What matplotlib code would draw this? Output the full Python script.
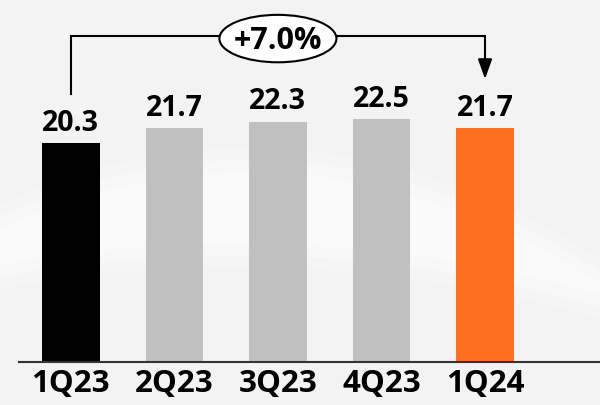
import numpy as np
import matplotlib.pyplot as plt
from matplotlib.patches import Ellipse

quarters = ['1Q23', '2Q23', '3Q23', '4Q23', '1Q24']
values = [20.3, 21.7, 22.3, 22.5, 21.7]
bar_colors = ['#000000', '#c0c0c0', '#c0c0c0', '#c0c0c0', '#ff6f20']
growth_label = '+7.0%'

plt.rcParams['font.family'] = ['Open Sans', 'DejaVu Sans']

fig = plt.figure(figsize=(6, 4.06), dpi=100)
fig.patch.set_facecolor('#f3f3f3')

# soft white swoosh behind the bars
bg = fig.add_axes([0, 0, 1, 1], zorder=0)
bg.set_xlim(0, 600)
bg.set_ylim(406, 0)
bg.axis('off')
xs = np.linspace(0, 600, 200)
t = xs / 600
top = 205 * (1 - t) ** 2 + 2 * t * (1 - t) * 70 + 260 * t ** 2
bot = 290 * (1 - t) ** 2 + 2 * t * (1 - t) * 235 + 320 * t ** 2
for k, a in enumerate([0.2, 0.3, 0.4]):
    shrink = k * 12
    bg.fill_between(xs, top + shrink, bot - shrink, color='white', alpha=a, lw=0)

ax = fig.add_axes([19 / 600, 43 / 406, 581 / 600, 363 / 406], zorder=1)
ax.patch.set_visible(False)

x = np.arange(len(quarters))
bars = ax.bar(x, values, width=0.555, color=bar_colors, zorder=2)

for xi, v in zip(x, values):
    ax.annotate(f'{v:.1f}', (xi, v), xytext=(0, 9.5), textcoords='offset points',
                ha='center', va='baseline', fontsize=20.5, fontweight='bold')

ax.set_xlim(-0.5, 5.11)
ax.set_ylim(0, 33.67)
ax.set_xticks(x)
ax.set_xticklabels(quarters, fontsize=22.5, fontweight='bold')
ax.tick_params(axis='x', length=0, pad=4)
ax.set_yticks([])
for s in ['top', 'right', 'left']:
    ax.spines[s].set_visible(False)
ax.spines['bottom'].set_color('#333333')
ax.spines['bottom'].set_linewidth(1.5)

# growth bracket from first to last quarter
y_br = 30.2
ax.plot([0, 0, 4, 4], [24.9, y_br, y_br, 28.0], color='black', lw=1.5,
        solid_joinstyle='miter', zorder=3)
ax.annotate('', xy=(4, 26.25), xytext=(4, 28.2),
            arrowprops=dict(arrowstyle='-|>,head_length=12,head_width=4.3',
                            mutation_scale=1, color='black', lw=1.5,
                            shrinkA=0, shrinkB=0), zorder=3)
ax.add_patch(Ellipse((2, 30.0), 1.13, 4.4, facecolor='white', edgecolor='black',
                     lw=1.5, zorder=4))
ax.text(2, 29.9, growth_label, ha='center', va='center', fontsize=22,
        fontweight='bold', zorder=5)

fig.savefig('out.png', dpi=100, facecolor=fig.get_facecolor())
